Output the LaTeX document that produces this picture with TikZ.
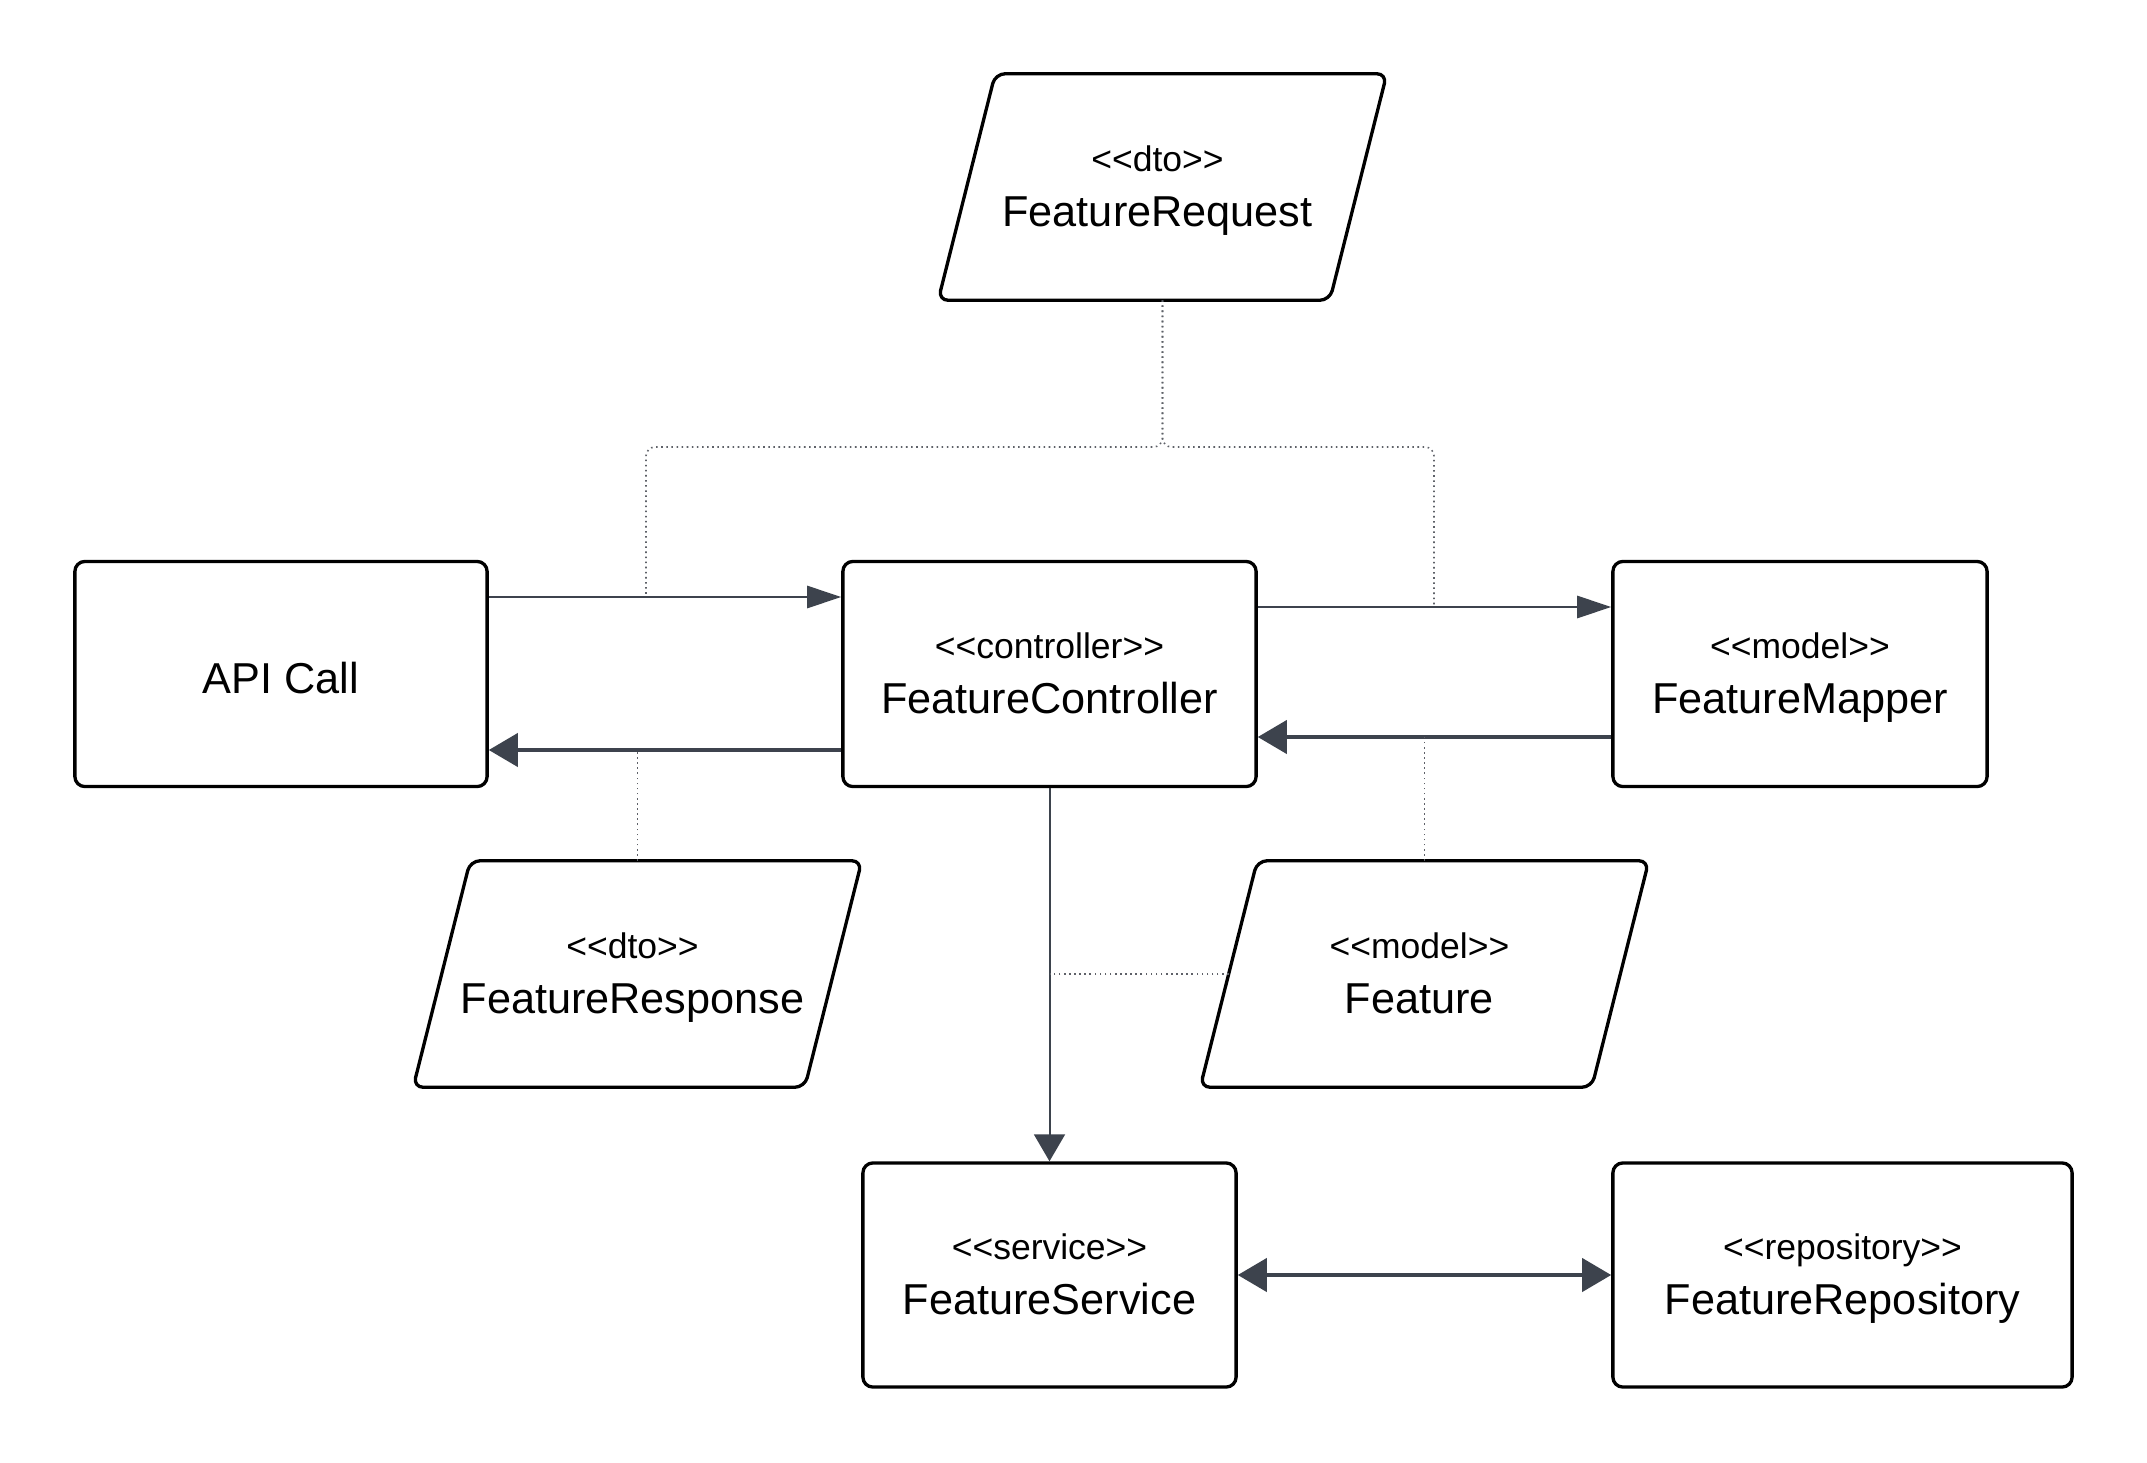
\documentclass[tikz,border=0pt]{standalone}
\usepackage{fontspec}
\setmainfont{Liberation Sans}
\usetikzlibrary{arrows.meta}
\definecolor{arr}{HTML}{3D434D}
\definecolor{dotc}{HTML}{5E6168}
\tikzset{
  box/.style={draw=black, line width=0.94pt, rounded corners=0.1cm, minimum height=2.25cm, inner sep=0pt},
  parabody/.style={minimum width=4.47cm, minimum height=2.25cm, inner sep=0pt},
  paraline/.style={draw=black, line width=0.94pt, rounded corners=0.1cm},
  small/.style={anchor=base, font=\fontsize{10.1pt}{12pt}\selectfont, inner sep=0pt, yshift=0.155cm},
  big/.style={anchor=base, font=\fontsize{12.3pt}{14pt}\selectfont, inner sep=0pt, yshift=-0.39cm},
  arrA/.style={draw=arr, line width=0.77pt, -{Triangle[length=0.34cm,width=0.22cm]}},
  arrB/.style={draw=arr, line width=1.13pt, -{Triangle[length=0.29cm,width=0.33cm]}},
  arrBB/.style={draw=arr, line width=1.13pt, {Triangle[length=0.29cm,width=0.33cm]}-{Triangle[length=0.29cm,width=0.33cm]}},
  arrC/.style={draw=arr, line width=0.57pt, -{Triangle[length=0.27cm,width=0.31cm]}},
  assoc/.style={draw=dotc, line width=0.45pt, densely dotted},
}
\newcommand{\parashape}[1]{%
  \draw[paraline] (#1.south west) -- ([xshift=-0.57cm]#1.south east) -- (#1.north east)
    -- ([xshift=0.57cm]#1.north west) -- cycle;}
\begin{document}
\begin{tikzpicture}[x=0.01cm, y=-0.01cm]
\fill[white] (0,0) rectangle (2147,1463);
\useasboundingbox (0,0) rectangle (2147,1463);

% boxes
\node[box, minimum width=4.12cm] (API) at (281,674) {};
\node[box, minimum width=4.13cm] (Ctrl) at (1049.5,674) {};
\node[box, minimum width=3.74cm] (Map) at (1800,674) {};
\node[box, minimum width=3.73cm, minimum height=2.24cm] (Serv) at (1049.5,1275) {};
\node[box, minimum width=4.59cm, minimum height=2.24cm] (Repo) at (1842.5,1275) {};
\node[parabody] (FR) at (1162.5,187) {};
\node[parabody] (FResp) at (637.5,974) {};
\node[parabody] (Feat) at (1424.5,974) {};
\parashape{FR}
\parashape{FResp}
\parashape{Feat}

% texts
\node[anchor=base, font=\fontsize{12.3pt}{14pt}\selectfont, inner sep=0pt, yshift=-0.19cm] (APIt) at (API.center) {API Call};
\node[small] (Ctrls) at (Ctrl.center) {<{}<controller>{}>};
\node[big] (Ctrlb) at (Ctrl.center) {FeatureController};
\node[small] (Maps) at (Map.center) {<{}<model>{}>};
\node[big] (Mapb) at (Map.center) {FeatureMapper};
\node[small] (Servs) at (Serv.center) {<{}<service>{}>};
\node[big] (Servb) at (Serv.center) {FeatureService};
\node[small] (Repos) at (Repo.center) {<{}<repository>{}>};
\node[big] (Repob) at (Repo.center) {FeatureRepository};
\node[small, xshift=-0.05cm] (FRs) at (FR.center) {<{}<dto>{}>};
\node[big, xshift=-0.05cm] (FRb) at (FR.center) {FeatureRequest};
\node[small, xshift=-0.05cm] (FResps) at (FResp.center) {<{}<dto>{}>};
\node[big, xshift=-0.05cm] (FRespb) at (FResp.center) {FeatureResponse};
\node[small, xshift=-0.05cm] (Feats) at (Feat.center) {<{}<model>{}>};
\node[big, xshift=-0.05cm] (Featb) at (Feat.center) {Feature};

% helper coordinates
\coordinate (yA) at (0,597);
\coordinate (yB) at (0,607);
\coordinate (yC) at (0,737);
\coordinate (yD) at (0,750);
\coordinate (yJ) at (0,447);
\coordinate (m1) at (646,597);
\coordinate (m2) at (1434,607);
\coordinate (fw) at ([xshift=0.285cm]Feat.west);

% arrows
\draw[arrA] (API.east |- yA) -- (Ctrl.west |- yA);
\draw[arrA] (Ctrl.east |- yB) -- (Map.west |- yB);
\draw[arrB] (Map.west |- yC) -- (Ctrl.east |- yC);
\draw[arrB] (Ctrl.west |- yD) -- (API.east |- yD);
\draw[arrC] (Ctrl.south) -- (Serv.north);
\draw[arrBB] (Serv.east) -- (Repo.west);

% association (dotted) lines
\draw[assoc, rounded corners=0.09cm] (FR.south) -- (FR.south |- yJ) -- (m1 |- yJ) -- (m1);
\draw[assoc, rounded corners=0.09cm] (FR.south) -- (FR.south |- yJ) -- (m2 |- yJ) -- (m2);
\draw[assoc] (FResp.north) -- (FResp.north |- yD);
\draw[assoc] (Feat.north) -- (Feat.north |- yC);
\draw[assoc] (fw) -- (Ctrl.south |- fw);
\end{tikzpicture}
\end{document}
